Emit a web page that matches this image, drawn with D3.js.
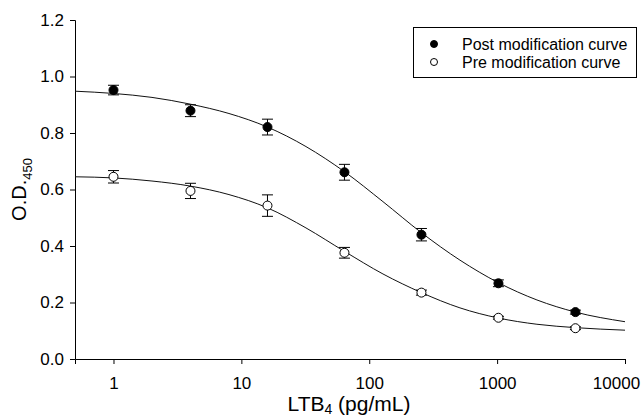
<!DOCTYPE html>
<html>
<head>
<meta charset="utf-8">
<script src="https://cdn.jsdelivr.net/npm/d3@7"></script>
<style>
  body { margin: 0; background: #fff; }
  text { font-family: "Liberation Sans", Arial, sans-serif; }
</style>
</head>
<body>
<script>
// LTB4 concentrations (pg/mL), 4-fold dilution series
const conc = [1, 4, 16, 64, 256, 1024, 4096];

// measured O.D.450 and error
const postOD = [0.952, 0.879, 0.821, 0.661, 0.440, 0.268, 0.166];
const postErr = [0.017, 0.021, 0.028, 0.028, 0.022, 0.012, 0.007];
const preOD = [0.645, 0.595, 0.543, 0.376, 0.235, 0.146, 0.109];
const preErr = [0.022, 0.027, 0.038, 0.019, 0.009, 0.005, 0.005];

// fitted curves
const curveX = [0.5, 1, 2, 4, 8, 16, 32, 64, 128, 256, 512, 1024, 2048, 4096, 10000];
const postCurve = [0.948, 0.940, 0.926, 0.902, 0.869, 0.821, 0.752, 0.663, 0.557, 0.447, 0.350, 0.270, 0.209, 0.166, 0.132];
const preCurve = [0.645, 0.641, 0.630, 0.612, 0.582, 0.535, 0.464, 0.381, 0.301, 0.235, 0.181, 0.145, 0.123, 0.111, 0.102];

const xTicks = [1, 10, 100, 1000, 10000];
const yTicks = [0, 0.2, 0.4, 0.6, 0.8, 1.0, 1.2];

const width = 644, height = 416;
const svg = d3.select("body").append("svg")
  .attr("width", width)
  .attr("height", height);

const x = d3.scaleLog().domain([0.5, 10000]).range([75, 625]);
const y = d3.scaleLinear().domain([0, 1.2]).range([359, 20]);

// axes
const xAxis = svg.append("g")
  .attr("transform", `translate(0,${y(0)})`)
  .call(d3.axisBottom(x).tickValues(xTicks).tickFormat(d3.format("d"))
    .tickSizeOuter(0).tickSize(5).tickPadding(13));
const yAxis = svg.append("g")
  .attr("transform", `translate(${x(0.5)},0)`)
  .call(d3.axisLeft(y).tickValues(yTicks).tickFormat(d3.format(".1f"))
    .tickSizeOuter(0).tickSize(5).tickPadding(6));

[xAxis, yAxis].forEach(g => {
  g.selectAll("text").attr("font-size", 17).attr("fill", "#000")
    .attr("font-family", "Liberation Sans, Arial, sans-serif");
  g.selectAll("line, path").attr("stroke", "#000");
});
// last label sits a bit left so it stays inside the frame
xAxis.selectAll(".tick text").filter(d => d === 10000).attr("dx", -9);

// axis titles
svg.append("text")
  .attr("x", 349).attr("y", 411)
  .attr("text-anchor", "middle")
  .attr("font-size", 21)
  .call(t => {
    t.append("tspan").text("LTB");
    t.append("tspan").attr("font-size", 14).attr("dy", 3).text("4");
    t.append("tspan").attr("dy", -3).text(" (pg/mL)");
  });

svg.append("text")
  .attr("transform", `translate(26,${(y(0) + y(1.2)) / 2}) rotate(-90)`)
  .attr("text-anchor", "middle")
  .attr("font-size", 20)
  .call(t => {
    t.append("tspan").text("O.D.");
    t.append("tspan").attr("font-size", 13).attr("dy", 6).text("450");
  });

// curves
const line = d3.line()
  .x(d => x(d[0]))
  .y(d => y(d[1]))
  .curve(d3.curveMonotoneX);

[postCurve, preCurve].forEach(c => {
  svg.append("path")
    .datum(curveX.map((v, i) => [v, c[i]]))
    .attr("d", line)
    .attr("fill", "none")
    .attr("stroke", "#111")
    .attr("stroke-width", 1);
});

// points with error bars
function drawSeries(vals, errs, filled) {
  const g = svg.append("g");
  const pts = conc.map((c, i) => ({ c, v: vals[i], e: errs[i] }));
  const bar = g.selectAll(".err").data(pts).enter().append("g")
    .attr("stroke", "#000").attr("stroke-width", 1);
  bar.append("line")
    .attr("x1", d => x(d.c)).attr("x2", d => x(d.c))
    .attr("y1", d => y(d.v - d.e)).attr("y2", d => y(d.v + d.e));
  bar.append("line")
    .attr("x1", d => x(d.c) - 5.5).attr("x2", d => x(d.c) + 5.5)
    .attr("y1", d => y(d.v + d.e)).attr("y2", d => y(d.v + d.e));
  bar.append("line")
    .attr("x1", d => x(d.c) - 5.5).attr("x2", d => x(d.c) + 5.5)
    .attr("y1", d => y(d.v - d.e)).attr("y2", d => y(d.v - d.e));
  g.selectAll("circle").data(pts).enter().append("circle")
    .attr("cx", d => x(d.c)).attr("cy", d => y(d.v))
    .attr("r", 4.5)
    .attr("fill", filled ? "#000" : "#fff")
    .attr("stroke", "#000").attr("stroke-width", 1);
}
drawSeries(postOD, postErr, true);
drawSeries(preOD, preErr, false);

// legend
const legend = svg.append("g");
legend.append("rect")
  .attr("x", 413.5).attr("y", 27.5).attr("width", 223).attr("height", 50)
  .attr("fill", "#fff").attr("stroke", "#000");
const legendItems = [
  { label: "Post modification curve", filled: true },
  { label: "Pre modification curve", filled: false }
];
legendItems.forEach((d, i) => {
  const ly = 44 + i * 18;
  legend.append("circle")
    .attr("cx", 434).attr("cy", ly).attr("r", 3.5)
    .attr("fill", d.filled ? "#000" : "#fff")
    .attr("stroke", "#000");
  legend.append("text")
    .attr("x", 462).attr("y", ly + 6)
    .attr("font-size", 16)
    .text(d.label);
});
</script>
</body>
</html>
